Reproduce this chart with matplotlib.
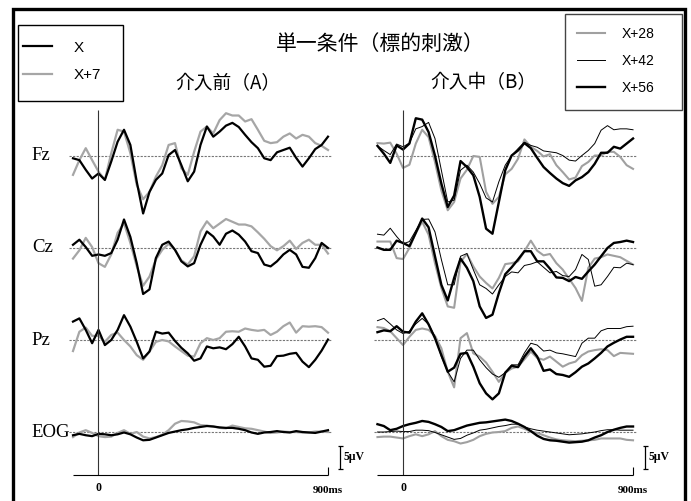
import matplotlib.pyplot as plt
from matplotlib.patches import Rectangle

W, H = 691, 501

# 時間 (ms)
times = [-100, -75, -50, -25, 0, 25, 50, 75, 100, 125, 150, 175, 200, 225, 250, 275, 300,
         325, 350, 375, 400, 425, 450, 475, 500, 525, 550, 575, 600, 625, 650, 675, 700,
         725, 750, 775, 800, 825, 850, 875, 900]
channels = ['Fz', 'Cz', 'Pz', 'EOG']

# 介入前(A)  (µV)
pre_x_fz = [-0.5, -0.9, -3.0, -4.9, -3.8, -5.2, -1.2, 3.1, 5.7, 2.4, -5.6, -12.5, -7.8, -5.2, -3.8, 0.2, 1.3,
            -2.0, -5.5, -3.4, 2.4, 6.4, 4.2, 5.3, 6.6, 7.2, 6.3, 4.6, 3.0, 1.7, -0.5, -0.9, 0.8,
            1.3, 1.8, -0.4, -2.3, -0.5, 1.5, 2.4, 4.2]
pre_x_cz = [0.7, 1.8, 0.2, -1.7, -1.4, -1.7, -1.1, 1.8, 6.2, 2.4, -3.3, -10.0, -9.0, -2.2, 0.7, 1.4, -0.4,
            -2.9, -4.0, -3.3, 0.7, 3.6, 2.5, 0.7, 3.1, 3.8, 2.9, 1.4, -0.7, -1.1, -3.6, -4.0, -2.9,
            -1.4, -0.4, -1.4, -4.1, -4.3, -2.2, 1.1, 0.0]
pre_x_pz = [4.0, 4.7, 2.2, -0.7, 2.2, -1.1, 0.0, 2.2, 5.4, 2.9, -0.4, -4.0, -2.5, 1.8, 1.4, 1.6, -0.2,
            -1.7, -2.9, -4.5, -4.0, -1.4, -1.8, -1.6, -2.0, -0.9, 0.7, -1.4, -4.0, -4.3, -5.8, -5.6, -3.5,
            -3.4, -3.0, -2.8, -4.7, -5.9, -4.3, -2.3, 0.1]
pre_x_eog = [-0.7, -0.4, -0.7, -0.9, -0.4, -0.5, -0.7, -0.5, -0.1, -0.5, -1.2, -1.8, -1.7, -1.2, -0.7, -0.2, 0.1,
             0.4, 0.6, 0.9, 1.1, 1.3, 1.2, 1.0, 0.9, 0.9, 0.7, 0.4, -0.1, -0.4, -0.1, 0.0, 0.2,
             0.0, -0.1, 0.2, 0.0, -0.1, -0.2, 0.1, 0.4]

pre_x7_fz = [-4.1, -0.9, 1.7, -0.9, -3.4, -5.2, 0.6, 5.7, 5.3, 0.6, -6.3, -9.4, -7.8, -4.5, -2.0, 2.4, 2.8,
             -2.7, -4.1, 0.9, 5.3, 6.4, 4.9, 7.8, 9.3, 8.8, 8.8, 7.5, 8.0, 5.7, 3.3, 2.8, 3.0,
             4.2, 4.9, 3.8, 4.6, 4.2, 2.8, 2.2, 1.3]
pre_x7_cz = [-2.3, -0.5, 2.2, 0.2, -3.3, -4.1, -1.4, 3.3, 5.4, 1.1, -4.0, -8.2, -6.2, -2.5, -0.4, 0.9, -0.4,
             -2.7, -3.6, -1.8, 3.6, 5.8, 4.3, 5.3, 6.3, 5.7, 5.1, 5.1, 4.7, 3.4, 2.0, 0.4, -0.5,
             0.4, 1.6, -0.2, 1.1, 1.8, 0.7, 0.7, -1.2]
pre_x7_pz = [-2.4, 1.8, 2.7, 0.9, 0.9, -0.4, 1.1, 1.6, 0.0, -1.4, -3.3, -4.3, -2.5, -0.4, 0.0, -0.3, -1.4,
             -2.4, -3.4, -3.6, -0.7, 0.4, 0.0, 0.4, 1.8, 1.9, 1.8, 2.5, 2.2, 2.0, 2.2, 1.1, 1.8,
             3.0, 3.8, 1.6, 3.0, 2.9, 3.0, 2.8, 1.6]
pre_x7_eog = [-1.1, -0.1, 0.4, -0.2, -0.9, -1.1, -1.0, -0.2, 0.4, -0.4, 0.0, -1.0, -1.4, -1.1, -0.6, 0.4, 1.8,
              2.4, 2.3, 2.1, 1.5, 1.4, 1.2, 0.9, 0.8, 1.4, 1.1, 0.8, 0.7, 0.4, 0.1, -0.2, -0.1,
              0.1, 0.0, 0.0, -0.1, -0.1, 0.1, 0.1, 0.0]

# 介入中(B)  (µV)
mid_x28_fz = [2.8, 2.7, 2.9, 0.5, -2.6, -1.9, 2.7, 5.7, 4.1, -1.3, -7.5, -11.8, -10.0, -4.9, -3.0, 0.0, -0.2,
              -7.8, -10.4, -8.9, -4.0, -2.8, -0.6, 3.6, 2.0, 1.1, -0.1, 0.4, -2.0, -3.5, -5.1, -4.7, -2.2,
              -1.3, 0.1, 0.1, 0.9, 0.9, -0.2, -2.0, -2.8]
mid_x28_cz = [1.4, 1.4, 1.4, -2.2, -2.4, 0.0, 3.3, 5.7, 2.9, -3.3, -8.7, -12.7, -13.0, -3.0, -1.3, -4.0, -6.2,
              -7.6, -8.8, -6.5, -3.5, -3.3, -2.9, -0.7, 1.6, -0.6, -1.6, -1.3, -3.3, -4.7, -6.7, -8.7, -11.5,
              -4.3, -2.3, -2.0, -1.4, -1.7, -2.0, -2.8, -3.6]
mid_x28_pz = [2.8, 2.6, 1.9, 0.4, -1.1, 0.7, 2.2, 2.5, 2.2, 0.9, -1.8, -6.9, -10.3, 0.4, 1.5, -2.9, -3.6,
              -4.9, -6.9, -9.1, -7.1, -6.2, -5.8, -4.2, -2.5, -3.9, -4.3, -3.6, -4.7, -5.8, -5.1, -4.7, -3.3,
              -2.5, -2.2, -2.0, -2.2, -3.5, -2.8, -2.9, -3.0]
mid_x28_eog = [-1.1, -1.0, -1.0, -1.2, -1.4, -0.9, -0.5, -0.9, -0.5, 0.2, -0.9, -1.7, -2.0, -2.5, -2.2, -1.7, -0.9,
               -0.4, -0.1, 0.0, 0.2, 0.9, 1.2, 0.7, 0.1, -0.2, -0.7, -1.2, -1.6, -1.8, -1.9, -2.0, -1.9,
               -1.8, -1.7, -1.4, -1.4, -1.4, -1.4, -1.7, -1.8]

mid_x42_fz = [2.2, 1.2, 0.3, 2.6, 2.0, 2.8, 5.9, 6.4, 7.3, 3.8, -3.1, -10.0, -9.6, -3.1, -2.0, -3.5, -6.0,
              -9.1, -10.0, -5.6, -2.0, 0.1, 1.6, 3.0, 2.3, 1.9, 1.1, 0.9, 0.7, 0.1, -0.9, -1.1, 0.1,
              1.2, 2.7, 5.6, 6.6, 5.7, 5.9, 5.9, 5.7]
mid_x42_cz = [3.0, 2.8, 4.3, 2.5, 0.9, 1.4, 3.8, 6.2, 6.3, 3.5, -2.5, -8.0, -8.0, -1.8, -1.2, -4.7, -8.0,
              -8.8, -10.0, -8.0, -6.2, -5.2, -5.4, -3.8, -3.5, -3.0, -4.2, -5.4, -5.1, -6.0, -6.2, -4.7, -1.4,
              -2.5, -8.3, -8.0, -6.2, -4.2, -4.3, -3.3, -3.6]
mid_x42_pz = [4.2, 4.7, 3.5, 2.2, 1.4, 1.9, 3.5, 4.7, 3.4, 0.7, -3.6, -6.9, -9.1, -4.0, -2.2, -2.2, -4.3,
              -6.0, -7.4, -8.1, -7.1, -5.4, -5.4, -2.8, -0.7, -1.1, -2.4, -2.2, -2.8, -3.0, -3.3, -3.6, -0.7,
              0.4, 0.4, 2.0, 2.5, 2.5, 2.5, 2.9, 3.0]
mid_x42_eog = [0.0, 0.0, 0.1, 0.2, 0.1, 0.1, 0.4, 0.4, 0.3, -0.1, -0.6, -1.1, -1.6, -1.4, -0.7, -0.2, 0.4,
               0.6, 0.9, 1.2, 1.4, 1.7, 1.7, 1.1, 0.7, 0.4, 0.2, 0.0, -0.2, -0.4, -0.6, -0.5, -0.4,
               -0.2, 0.0, 0.3, 0.5, 0.5, 0.4, 0.4, 0.4]

mid_x56_fz = [2.2, 0.5, -1.5, 2.3, 1.4, 2.7, 8.2, 7.9, 5.2, 0.1, -6.0, -11.1, -8.6, -1.1, -2.4, -4.2, -8.9,
              -15.8, -16.9, -10.0, -3.1, 0.1, 1.2, 2.8, 1.7, -0.4, -2.4, -3.7, -4.9, -5.9, -6.5, -5.3, -4.6,
              -3.5, -1.7, 0.7, 0.7, 2.0, 1.6, 2.7, 3.8]
mid_x56_cz = [0.1, -0.4, -0.4, 1.6, 1.1, 0.4, 3.3, 6.4, 4.5, -1.8, -8.0, -11.4, -6.5, -2.3, -4.3, -7.2, -12.7,
              -15.2, -14.5, -9.8, -5.7, -4.2, -2.5, -0.7, -0.7, -2.9, -2.9, -4.5, -6.4, -6.5, -7.2, -6.3, -6.7,
              -5.1, -3.6, -1.8, 0.0, 1.1, 1.3, 1.6, 1.3]
mid_x56_pz = [1.7, 2.1, 1.9, 3.0, 1.8, 1.6, 4.0, 5.8, 3.4, 0.4, -3.3, -6.9, -6.0, -3.0, -2.8, -5.8, -9.4,
              -11.6, -12.9, -11.6, -7.1, -5.6, -5.9, -3.6, -1.8, -3.6, -6.7, -6.4, -7.4, -7.6, -8.0, -7.0, -5.8,
              -5.1, -4.0, -2.8, -1.4, -0.6, 0.1, 0.7, 0.7]
mid_x56_eog = [1.7, 1.3, 0.4, 0.7, 1.3, 1.7, 2.0, 2.4, 2.2, 1.7, 1.1, 0.2, 0.4, 0.9, 1.4, 1.7, 2.0,
               2.1, 2.3, 2.5, 2.7, 2.4, 1.8, 1.1, 0.2, -0.8, -1.5, -1.8, -1.9, -2.1, -2.3, -2.2, -2.1,
               -1.8, -1.2, -0.7, 0.0, 0.5, 0.9, 1.2, 1.2]

pre_series = [
    ('X+7', [pre_x7_fz, pre_x7_cz, pre_x7_pz, pre_x7_eog], dict(color='#a6a6a6', lw=1.6)),
    ('X', [pre_x_fz, pre_x_cz, pre_x_pz, pre_x_eog], dict(color='black', lw=1.6)),
]
mid_series = [
    ('X+28', [mid_x28_fz, mid_x28_cz, mid_x28_pz, mid_x28_eog], dict(color='#a0a0a0', lw=1.5)),
    ('X+42', [mid_x42_fz, mid_x42_cz, mid_x42_pz, mid_x42_eog], dict(color='black', lw=0.7)),
    ('X+56', [mid_x56_fz, mid_x56_cz, mid_x56_pz, mid_x56_eog], dict(color='black', lw=1.7)),
]

spacing = 20          # µV between channels
serif = ['Liberation Serif', 'DejaVu Serif']
jp = ['Noto Sans CJK JP', 'DejaVu Sans']
plt.rcParams['font.family'] = ['Liberation Sans', 'DejaVu Sans']

fig = plt.figure(figsize=(W / 100, H / 100), dpi=100)


def panel(x0, x1):
    ax = fig.add_axes([x0 / W, 1 - 480 / H, (x1 - x0) / W, 380 / H])
    ax.set_xlim(-130, 930)
    ax.set_ylim(-70.43, 12.17)
    ax.axis('off')
    return ax


def draw(ax, series):
    handles = []
    for i, ch in enumerate(channels):
        ax.hlines(-i * spacing, -115, 915, colors='#777777', lw=0.8, linestyles=(0, (2, 1.2)))
    for label, data, style in series:
        for i, vals in enumerate(data):
            ln, = ax.plot(times, [v - i * spacing for v in vals], clip_on=False,
                          solid_joinstyle='round', **style)
        ln.set_label(label)
        handles.append(ln)
    # 0 ms line, time axis, scale bar
    ax.vlines(0, -69.3, 10, colors='#333333', lw=0.8)
    ax.hlines(-69.3, -100, 900, colors='black', lw=0.8)
    ax.vlines(900, -69.3, -67.6, colors='black', lw=0.8)
    ax.vlines(948, -68, -63, colors='black', lw=0.9, clip_on=False)
    ax.hlines([-68, -63], 938, 958, colors='black', lw=0.9, clip_on=False)
    ax.text(959, -65.5, '5μV', family=serif, fontweight='bold', fontsize=8.5,
            ha='left', va='center', clip_on=False)
    ax.text(0, -72.2, '0', family=serif, fontweight='bold', fontsize=8.5, ha='center', va='center')
    ax.text(900, -72.8, '900ms', family=serif, fontweight='bold', fontsize=8,
            ha='center', va='center')
    return handles


ax_pre = panel(65.35, 335.65)
ax_mid = panel(369.8, 640.7)
h_pre = draw(ax_pre, pre_series)
h_mid = draw(ax_mid, mid_series)

for i, ch in enumerate(channels):
    ax_pre.text(-261, -i * spacing, ch, family=serif, fontsize=13.5, ha='left', va='center')

fig.text(380 / W, 1 - 44 / H, '単一条件（標的刺激）', family=jp, fontsize=15, ha='center', va='center')
fig.text(228 / W, 1 - 84 / H, '介入前（A）', family=jp, fontsize=13.5, ha='center', va='center')
fig.text(483 / W, 1 - 83 / H, '介入中（B）', family=jp, fontsize=13.5, ha='center', va='center')

# legend boxes
fig.add_artist(Rectangle((18 / W, 1 - 101 / H), 105 / W, 76 / H, transform=fig.transFigure,
                         fill=False, ec='black', lw=1.0))
fig.add_artist(Rectangle((565 / W, 1 - 110 / H), 117 / W, 96 / H, transform=fig.transFigure,
                         fill=False, ec='#444444', lw=1.0))
fig.legend(handles=[h_pre[1], h_pre[0]], loc='center left', bbox_to_anchor=(23 / W, 1 - 61.5 / H),
           frameon=False, fontsize=11, handlelength=1.9, handletextpad=1.4, labelspacing=0.9,
           borderpad=0, borderaxespad=0)
fig.legend(handles=h_mid, loc='center left', bbox_to_anchor=(577 / W, 1 - 61 / H),
           frameon=False, fontsize=10, handlelength=2.0, handletextpad=1.2, labelspacing=0.95,
           borderpad=0, borderaxespad=0)

# outer frame
fig.add_artist(Rectangle((12.5 / W, -0.01), 672.5 / W, 1 - 9 / H + 0.01, transform=fig.transFigure,
                         fill=False, ec='black', lw=2.4))

fig.savefig('out.png', dpi=100)
